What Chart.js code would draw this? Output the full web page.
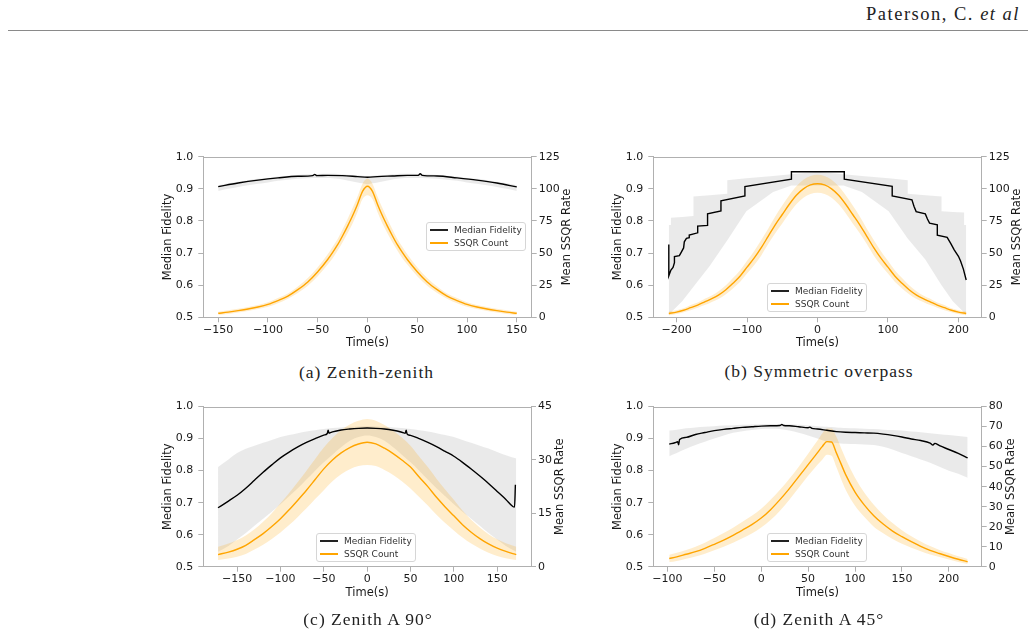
<!DOCTYPE html>
<html>
<head>
<meta charset="utf-8">
<script src="https://cdn.jsdelivr.net/npm/chart.js@4"></script>
<style>
  body { margin: 0; background: #fff; }
  #page { position: relative; width: 1034px; height: 636px; overflow: hidden; background: #fff; }
  canvas { position: absolute; }
  .hdr { position: absolute; right: 14px; top: 5px; font: 18.5px/1 'Liberation Serif', serif; letter-spacing: 1.5px; color: #222; white-space: nowrap; }
  .rule { position: absolute; left: 8px; top: 30px; width: 1020px; height: 1px; background: #8a8a8a; }
  .cap { position: absolute; transform: translate(-50%, -50%); font: 17.5px/1 'Liberation Serif', serif; letter-spacing: 1px; color: #222; white-space: nowrap; }
  .legend { position: absolute; width: 100px; height: 29px; box-sizing: border-box; border: 1px solid #d6d6d6; border-radius: 3px; background: rgba(255,255,255,0.85); font: 9px 'DejaVu Sans', sans-serif; color: #333; }
  .row { position: absolute; left: 3px; height: 12px; line-height: 12px; display: flex; align-items: center; white-space: nowrap; }
  .sw { display: inline-block; width: 18px; height: 2px; margin-right: 6px; }
  .k { background: #222; }
  .o { background: #ffa500; }
</style>
</head>
<body>
<div id="page">
  <div class="hdr">Paterson, C. <i>et al</i></div>
  <div class="rule"></div>

  <canvas id="cA" width="432" height="210" style="left:150px;top:145px"></canvas>
  <canvas id="cB" width="432" height="210" style="left:600px;top:145px"></canvas>
  <canvas id="cC" width="432" height="210" style="left:150px;top:395px"></canvas>
  <canvas id="cD" width="432" height="210" style="left:600px;top:395px"></canvas>

  <div class="legend" style="left:426px;top:222px">
    <div class="row" style="top:1px"><span class="sw k"></span><span>Median Fidelity</span></div>
    <div class="row" style="top:14px"><span class="sw o"></span><span>SSQR Count</span></div>
  </div>
  <div class="legend" style="left:767px;top:283px">
    <div class="row" style="top:1px"><span class="sw k"></span><span>Median Fidelity</span></div>
    <div class="row" style="top:14px"><span class="sw o"></span><span>SSQR Count</span></div>
  </div>
  <div class="legend" style="left:316px;top:533px">
    <div class="row" style="top:1px"><span class="sw k"></span><span>Median Fidelity</span></div>
    <div class="row" style="top:14px"><span class="sw o"></span><span>SSQR Count</span></div>
  </div>
  <div class="legend" style="left:767px;top:533px">
    <div class="row" style="top:1px"><span class="sw k"></span><span>Median Fidelity</span></div>
    <div class="row" style="top:14px"><span class="sw o"></span><span>SSQR Count</span></div>
  </div>

  <div class="cap" style="left:366.5px;top:373px">(a) Zenith-zenith</div>
  <div class="cap" style="left:819px;top:372px">(b) Symmetric overpass</div>
  <div class="cap" style="left:368px;top:620px">(c) Zenith A 90°</div>
  <div class="cap" style="left:819px;top:620px">(d) Zenith A 45°</div>
</div>

<script>
// ---- shared tick labels ----
const fidTicks = [0.5, 0.6, 0.7, 0.8, 0.9, 1.0];

// ---- (a) Zenith-zenith ----
const xTicksA = [-150, -100, -50, 0, 50, 100, 150];
const rateTicksA = [0, 25, 50, 75, 100, 125];
const tA = [-150,-140,-130,-120,-110,-100,-90,-80,-70,-60,-50,-40,-35,-30,-25,-20,-15,-10,-5,0,5,10,15,20,25,30,35,40,50,60,70,80,90,100,110,120,130,140,150];
const ssqrA = [3.1,4,5.2,6.5,8,10,13,16.5,21.5,27.5,35.5,45,50.5,56.5,63.5,71,79,88,98,102,98,88,79,71,63.5,56.5,50.5,45,35.5,27.5,21.5,16.5,13,10,8,6.5,5.2,4,3.1];
const ssqrHiA = [4.4,5.4,6.6,8,9.6,11.8,15,18.5,24,30.5,39,49,55,61,68.5,76.5,85,94,104,108,104,94,85,76.5,68.5,61,55,49,39,30.5,24,18.5,15,11.8,9.6,8,6.6,5.4,4.4];
const ssqrLoA = [1.8,2.6,3.8,5,6.4,8.2,11,14.5,19,24.5,32,41,46,52,58.5,65.5,73,82,92,95,92,82,73,65.5,58.5,52,46,41,32,24.5,19,14.5,11,8.2,6.4,5,3.8,2.6,1.8];
const fidHiA = [.911,.917,.922,.927,.931,.934,.938,.941,.943,.945,.946,.947,.947,.946,.945,.944,.943,.942,.941,.940,.941,.942,.943,.944,.945,.946,.947,.947,.946,.945,.943,.941,.938,.934,.931,.927,.922,.917,.911];
const fidLoA = [.893,.900,.906,.911,.916,.920,.925,.928,.931,.933,.934,.934,.933,.931,.929,.926,.923,.920,.917,.914,.917,.920,.923,.926,.929,.931,.933,.934,.934,.933,.931,.928,.925,.920,.916,.911,.906,.900,.893];
const tFidA = [-150,-130,-110,-90,-70,-55,-53,-51,-40,-25,-10,0,10,25,40,51,53,55,70,90,110,130,150];
const fidA = [.907,.918,.927,.934,.939,.941,.945,.941,.942,.941,.938,.936,.938,.940,.942,.942,.947,.942,.940,.934,.927,.918,.906];

// ---- (b) Symmetric overpass ----
const xTicksB = [-200, -100, 0, 100, 200];
const rateTicksB = [0, 25, 50, 75, 100, 125];
const tB = [-211,-200,-190,-180,-170,-160,-150,-140,-130,-120,-110,-100,-90,-80,-70,-60,-50,-40,-30,-20,-10,0,10,20,30,40,50,60,70,80,90,100,110,120,130,140,150,160,170,180,190,200,211];
const ssqrB = [3,4,5.5,7.5,9.5,12,14.5,17.5,21.5,26.5,32,39,46,54,63,72,80,88,95,100,103,104,103,100,95,88,80,72,63,54,46,39,32,26.5,21.5,17.5,14.5,12,9.5,7.5,5.5,4,3];
const ssqrHiB = [4.5,5.5,7,9.5,11.5,14.5,17,20.5,25,30.5,36.5,44,51.5,60,69,78.5,87,95,102,107,110,111,110,107,102,95,87,78.5,69,60,51.5,44,36.5,30.5,25,20.5,17,14.5,11.5,9.5,7,5.5,4.5];
const ssqrLoB = [1.5,2.5,4,5.5,7.5,9.5,12,14.5,18,22.5,27.5,34,40.5,48,57,65.5,73,81,88,93,96,97,96,93,88,81,73,65.5,57,48,40.5,34,27.5,22.5,18,14.5,12,9.5,7.5,5.5,4,2.5,1.5];
const tGreyB = [-211,-208,-208,-192,-176,-176,-153,-128,-128,-101,-63,-37,0,37,63,101,128,128,153,176,176,192,208,208,211];
const greyHiB = [.787,.787,.81,.812,.815,.876,.88,.885,.927,.933,.94,.945,.953,.945,.94,.933,.927,.885,.88,.876,.83,.828,.826,.787,.787];
const greyLoB = [.505,.515,.515,.55,.595,.595,.66,.74,.74,.83,.89,.91,.91,.91,.89,.83,.745,.745,.68,.6,.6,.55,.515,.515,.505];
const tFidB = [-211,-211,-208,-205,-203,-203,-196,-194,-190,-189,-186,-182,-182,-170,-170,-156,-156,-137,-137,-103,-103,-37,-37,38,38,106,106,134,137,140,153,156,159,170,170,184,189,194,200,203,207,211];
const fidB = [.727,.629,.647,.655,.670,.689,.692,.700,.716,.735,.746,.748,.756,.763,.784,.786,.822,.831,.863,.878,.907,.930,.953,.953,.930,.908,.878,.866,.845,.829,.822,.806,.793,.788,.756,.749,.730,.710,.690,.675,.650,.616];

// ---- (c) Zenith A 90 ----
const xTicksC = [-150, -100, -50, 0, 50, 100, 150];
const rateTicksC = [0, 15, 30, 45];
const tC = [-172,-160,-150,-140,-130,-120,-110,-100,-90,-80,-70,-60,-50,-40,-30,-20,-10,0,10,20,30,40,50,60,70,80,90,100,110,120,130,140,150,160,172];
const ssqrC = [3.4,4.1,4.9,6,7.6,9.3,11.3,13.5,16,18.7,21.5,24.5,27.5,30,32,33.5,34.5,35,34.5,33.3,31.8,30,28,25.2,22.5,19.5,16.8,14.3,11.8,9.7,7.9,6.4,5.2,4.3,3.4];
const ssqrHiC = [5.6,6.5,7.5,8.8,10.5,12.6,15,17.8,20.7,23.8,27,30.3,33.5,36.2,38.4,40,41,41.5,41,39.8,38.2,36.3,34,31,28,24.7,21.7,18.8,15.8,13.2,11,9.1,7.7,6.6,5.6];
const ssqrLoC = [1.9,2.3,2.8,3.6,4.8,6.2,7.8,9.6,11.7,14,16.4,19,21.5,24,26,27.4,28.3,28.6,28.3,27.2,25.8,24,22,19.6,17.2,14.6,12.3,10.2,8.2,6.5,5.1,3.9,3,2.4,1.9];
const greyHiC = [.811,.835,.855,.868,.878,.887,.896,.905,.911,.917,.922,.926,.93,.933,.935,.937,.938,.939,.938,.937,.935,.933,.93,.926,.922,.917,.911,.905,.896,.887,.878,.869,.858,.848,.838];
const greyLoC = [.547,.565,.585,.605,.628,.65,.672,.695,.72,.745,.772,.8,.826,.85,.873,.893,.905,.91,.905,.893,.873,.85,.826,.8,.772,.745,.72,.695,.672,.65,.628,.605,.585,.565,.547];
const tFidC = [-172,-160,-150,-140,-130,-120,-110,-100,-90,-80,-70,-60,-50,-46,-45,-44,-40,-30,-20,-10,0,10,20,30,40,44,45,46,50,60,70,80,90,100,110,120,130,140,150,160,168,170,171];
const fidC = [.684,.705,.723,.745,.77,.795,.818,.84,.858,.874,.888,.9,.911,.916,.926,.917,.921,.927,.930,.932,.933,.932,.93,.926,.92,.917,.926,.915,.91,.9,.888,.875,.86,.845,.826,.805,.783,.76,.735,.71,.688,.686,.756];

// ---- (d) Zenith A 45 ----
const xTicksD = [-100, -50, 0, 50, 100, 150, 200];
const rateTicksD = [0, 10, 20, 30, 40, 50, 60, 70, 80];
const tD = [-98,-90,-80,-70,-60,-50,-40,-30,-20,-10,0,10,20,30,40,50,60,65,70,75,80,85,90,100,110,120,130,140,150,160,170,180,190,200,210,220];
const ssqrD = [4.1,4.9,6.2,7.5,9.2,11.2,13.3,15.7,18.3,21,24.3,28.5,33.5,39,45,51,57,60,62.5,62.3,57,51.5,46,37.3,30.8,25.5,21.3,17.8,15,12.5,10.2,8.2,6.6,5.1,3.7,2.5];
const ssqrHiD = [6,7,8.4,10,12,14.3,16.8,19.5,22.5,25.5,29,33.5,38.5,44,50,56.5,63,66.5,69,69,65,59.5,54,44.5,37,31,26,21.8,18.2,15.2,12.6,10.3,8.4,6.8,5.2,3.9];
const ssqrLoD = [2.3,2.9,4,5.1,6.5,8.2,10,12,14.2,16.6,19.6,23.3,28,33.5,39.5,45.5,51,53.5,56,55.5,50,44,38.5,30.5,24.8,20,16.7,13.8,11.5,9.5,7.7,6.1,4.8,3.6,2.4,1.3];
const greyHiD = [.925,.928,.932,.935,.937,.939,.941,.942,.943,.944,.945,.946,.946,.945,.943,.941,.939,.938,.937,.936,.935,.934,.933,.932,.931,.93,.928,.927,.925,.922,.92,.917,.914,.911,.908,.905];
const greyLoD = [.845,.855,.868,.88,.89,.9,.91,.918,.923,.927,.93,.931,.93,.925,.918,.91,.9,.895,.89,.888,.886,.885,.884,.883,.882,.88,.875,.866,.855,.845,.835,.825,.812,.8,.79,.778];
const tFidD = [-98,-92,-89,-88,-87,-80,-70,-60,-50,-40,-30,-20,-10,0,10,20,22,24,30,40,50,52,54,60,70,80,90,100,110,120,130,140,150,160,170,180,183,185,190,200,210,220];
const fidD = [.883,.887,.890,.881,.897,.904,.913,.919,.925,.929,.932,.935,.937,.939,.94,.941,.944,.941,.94,.937,.934,.936,.932,.93,.926,.922,.92,.919,.918,.917,.914,.91,.905,.899,.894,.886,.880,.885,.878,.866,.854,.84];

Chart.defaults.font.family = "'DejaVu Sans', sans-serif";
Chart.defaults.color = '#1a1a1a';

const SPINE = '#b0b0b0';
const pts = (t, v) => t.map((x, i) => ({ x: x, y: v[i] }));
const minus = v => (v < 0 ? '\u2212' + Math.abs(v) : String(v));

// top spine + right axis title (matplotlib twin axis label reads bottom-to-top)
const framePlugin = {
  id: 'frame',
  afterDraw(chart, args, opts) {
    const { ctx, chartArea: a } = chart;
    ctx.save();
    ctx.strokeStyle = SPINE;
    ctx.lineWidth = 1;
    const y = Math.round(a.top) + 0.5;
    ctx.beginPath();
    ctx.moveTo(a.left, y);
    ctx.lineTo(a.right, y);
    ctx.stroke();
    ctx.translate(a.right + opts.titleOffset, (a.top + a.bottom) / 2);
    ctx.rotate(-Math.PI / 2);
    ctx.fillStyle = '#1a1a1a';
    ctx.font = "11.5px 'DejaVu Sans', sans-serif";
    ctx.textAlign = 'center';
    ctx.textBaseline = 'middle';
    ctx.fillText(opts.text, 0, 0);
    ctx.restore();
  }
};

function band(t, v, axis, fill, color, smooth) {
  return {
    data: pts(t, v), yAxisID: axis, fill: fill, backgroundColor: color,
    borderColor: 'rgba(0,0,0,0)', borderWidth: 0, pointRadius: 0,
    cubicInterpolationMode: smooth ? 'monotone' : 'default', tension: 0
  };
}

function panel(id, p) {
  const H = 210;
  return new Chart(document.getElementById(id), {
    type: 'line',
    data: {
      datasets: [
        { data: pts(p.tFid, p.fid), yAxisID: 'y', borderColor: '#000', borderWidth: 1.4, pointRadius: 0,
          fill: false, cubicInterpolationMode: p.fidSmooth ? 'monotone' : 'default', tension: 0 },
        { data: pts(p.t, p.ssqr), yAxisID: 'y1', borderColor: 'orange', borderWidth: 1.4, pointRadius: 0,
          fill: false, cubicInterpolationMode: 'monotone' },
        band(p.t, p.ssqrHi, 'y1', '+1', 'rgba(255,165,0,0.2)', true),
        band(p.t, p.ssqrLo, 'y1', false, 'rgba(0,0,0,0)', true),
        band(p.tGrey, p.greyHi, 'y', '+1', 'rgba(190,190,190,0.33)', p.fidSmooth),
        band(p.tGrey, p.greyLo, 'y', false, 'rgba(0,0,0,0)', p.fidSmooth)
      ]
    },
    options: {
      responsive: false,
      animation: false,
      devicePixelRatio: 1,
      layout: { padding: { top: p.top, left: 0, right: 0, bottom: 0 } },
      plugins: {
        legend: { display: false },
        tooltip: { enabled: false },
        frame: { text: 'Mean SSQR Rate', titleOffset: p.rightTitle }
      },
      scales: {
        x: {
          type: 'linear', min: p.xMin, max: p.xMax,
          afterBuildTicks: s => { s.ticks = p.xTicks.map(v => ({ value: v })); },
          afterFit: s => { s.height = H - p.bottom; },
          ticks: { callback: minus, font: { size: 11 }, padding: 1, maxRotation: 0, autoSkip: false },
          grid: { drawOnChartArea: false, tickLength: 5, color: SPINE },
          border: { color: SPINE },
          title: { display: true, text: 'Time(s)', font: { size: 11.5 }, padding: { top: 0, bottom: p.xTitlePad } }
        },
        y: {
          position: 'left', min: 0.5, max: 1.0,
          afterBuildTicks: s => { s.ticks = fidTicks.map(v => ({ value: v })); },
          afterFit: s => { s.width = 53.3; },
          ticks: { callback: v => v.toFixed(1), font: { size: 11 }, padding: 5 },
          grid: { drawOnChartArea: false, tickLength: 5, color: SPINE },
          border: { color: SPINE },
          title: { display: true, text: 'Median Fidelity', font: { size: 11.5 }, padding: { top: 11.6, bottom: 0 } }
        },
        y1: {
          position: 'right', min: 0, max: p.rateTicks[p.rateTicks.length - 1],
          afterBuildTicks: s => { s.ticks = p.rateTicks.map(v => ({ value: v })); },
          afterFit: s => { s.width = 432 - p.right; },
          ticks: { callback: v => String(v), font: { size: 11 }, padding: 2 },
          grid: { drawOnChartArea: false, tickLength: 5, color: SPINE },
          border: { color: SPINE }
        }
      }
    },
    plugins: [framePlugin]
  });
}

panel('cA', { t: tA, ssqr: ssqrA, ssqrHi: ssqrHiA, ssqrLo: ssqrLoA, tGrey: tA, greyHi: fidHiA, greyLo: fidLoA,
  tFid: tFidA, fid: fidA, fidSmooth: true, xMin: -165, xMax: 165, xTicks: xTicksA, rateTicks: rateTicksA,
  top: 11.7, bottom: 172.3, right: 381.7, xTitlePad: 4.8, rightTitle: 35.6 });
panel('cB', { t: tB, ssqr: ssqrB, ssqrHi: ssqrHiB, ssqrLo: ssqrLoB, tGrey: tGreyB, greyHi: greyHiB, greyLo: greyLoB,
  tFid: tFidB, fid: fidB, fidSmooth: false, xMin: -233, xMax: 233, xTicks: xTicksB, rateTicks: rateTicksB,
  top: 11.7, bottom: 172.3, right: 381.7, xTitlePad: 4.8, rightTitle: 35.6 });
panel('cC', { t: tC, ssqr: ssqrC, ssqrHi: ssqrHiC, ssqrLo: ssqrLoC, tGrey: tC, greyHi: greyHiC, greyLo: greyLoC,
  tFid: tFidC, fid: fidC, fidSmooth: true, xMin: -189, xMax: 189, xTicks: xTicksC, rateTicks: rateTicksC,
  top: 11, bottom: 171.7, right: 381, xTitlePad: 5.4, rightTitle: 29 });
panel('cD', { t: tD, ssqr: ssqrD, ssqrHi: ssqrHiD, ssqrLo: ssqrLoD, tGrey: tD, greyHi: greyHiD, greyLo: greyLoD,
  tFid: tFidD, fid: fidD, fidSmooth: true, xMin: -115, xMax: 235, xTicks: xTicksD, rateTicks: rateTicksD,
  top: 11, bottom: 171.7, right: 381.7, xTitlePad: 5.4, rightTitle: 29 });
</script>
</body>
</html>
